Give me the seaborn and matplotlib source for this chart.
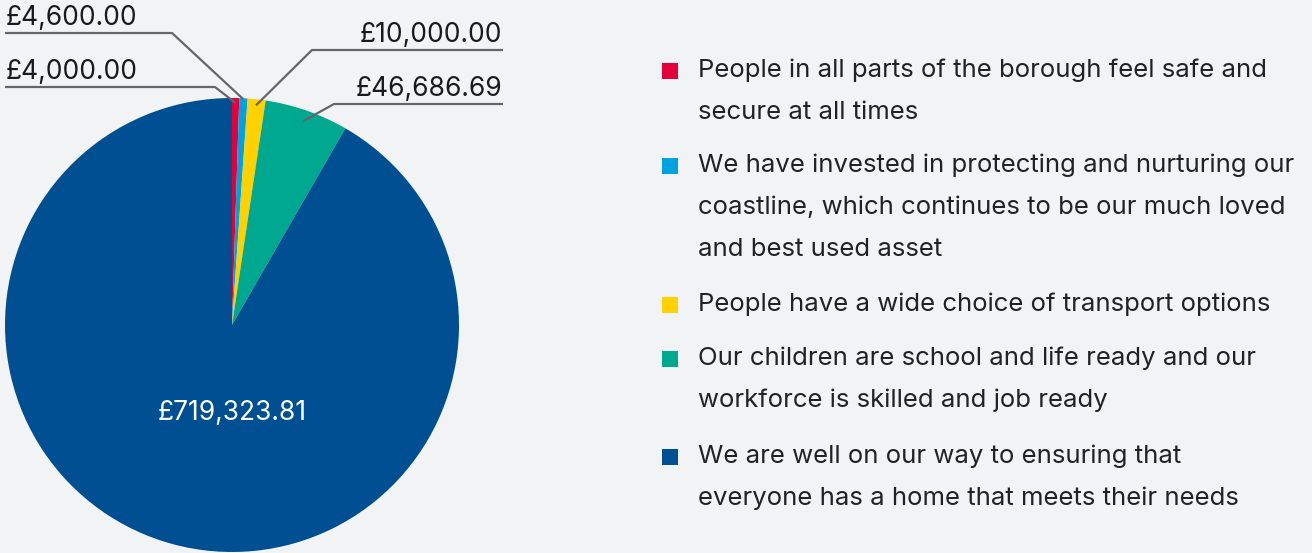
import numpy as np
import matplotlib.pyplot as plt
import matplotlib.patches as mpatches
import seaborn as sns

# values and labels
amounts = [4000.00, 4600.00, 10000.00, 46686.69, 719323.81]
amount_labels = ["£4,000.00", "£4,600.00", "£10,000.00", "£46,686.69", "£719,323.81"]
colors = ["#e4003b", "#00a3e0", "#ffd100", "#00a88f", "#004f93"]
legend_lines = [
    ["People in all parts of the borough feel safe and", "secure at all times"],
    ["We have invested in protecting and nurturing our", "coastline, which continues to be our much loved",
     "and best used asset"],
    ["People have a wide choice of transport options"],
    ["Our children are school and life ready and our", "workforce is skilled and job ready"],
    ["We are well on our way to ensuring that", "everyone has a home that meets their needs"],
]

sns.set_style("white")
plt.rcParams['font.family'] = ['Inter', 'DejaVu Sans']

bg = "#f2f3f5"
W, H = 1312, 553
fig = plt.figure(figsize=(W / 100, H / 100), dpi=100, facecolor=bg)
ax = fig.add_axes([0, 0, 1, 1])
ax.set_facecolor(bg)

# pie in pixel coordinates (y axis flipped, so angles run the other way)
cx, cy, R = 232, 325, 227
wedges, _ = ax.pie(amounts, colors=colors, startangle=-90, counterclock=True,
                   center=(cx, cy), radius=R, frame=True,
                   wedgeprops=dict(linewidth=0))
ax.set_xlim(0, W)
ax.set_ylim(H, 0)
ax.set_aspect('equal')
ax.axis('off')

# label anchors from the wedge angles
def anchor(i, r):
    w = wedges[i]
    ang = np.deg2rad((w.theta1 + w.theta2) / 2)
    return cx + r * np.cos(ang), cy + r * np.sin(ang)

line_kw = dict(color="#666666", lw=1.6, solid_capstyle='butt')
txt_kw = dict(fontsize=19, color="#1a1a1a")

# (slice, elbow x, line y, far x, side, radius)
leaders = [
    (0, 215, 87, 5, 'left', 222),
    (1, 172, 33, 5, 'left', 226),
    (2, 312, 50, 503, 'right', 221),
    (3, 334, 104, 503, 'right', 216),
]
for i, ex, ly, fx, side, r in leaders:
    px, py = anchor(i, r)
    ax.plot([fx, ex, px], [ly, ly, py], **line_kw)
    ax.text(fx + (1 if side == 'left' else -1), ly - 8, amount_labels[i],
            ha=side, va='baseline', **txt_kw)

ax.text(cx, 413, amount_labels[4], ha='center', va='center', color="white",
        fontsize=19)

# legend drawn by hand to follow the reference layout
item_y = [70, 165, 304, 358, 456]
line_h = 42.5
for c, lines, y0 in zip(colors, legend_lines, item_y):
    ax.add_patch(mpatches.Rectangle((662, y0 - 7.5), 16, 16, color=c, lw=0))
    for k, t in enumerate(lines):
        ax.text(698, y0 + k * line_h, t, ha='left', va='center',
                fontsize=18.5, color="#222222")

fig.savefig("out.png", dpi=100, facecolor=bg)
